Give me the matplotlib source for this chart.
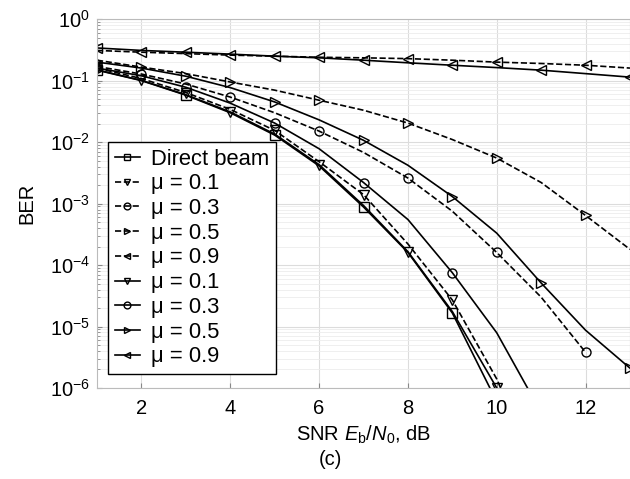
import numpy as np
import matplotlib
matplotlib.use("Agg")
import matplotlib.pyplot as plt

plt.rcParams['font.family'] = ['Liberation Sans', 'DejaVu Sans']
plt.rcParams['mathtext.fontset'] = 'custom'
plt.rcParams['mathtext.rm'] = 'Liberation Sans'
plt.rcParams['mathtext.it'] = 'Liberation Sans:italic'
plt.rcParams['font.size'] = 14.5

# SNR points (dB)
snr = [1, 2, 3, 4, 5, 6, 7, 8, 9, 10, 11, 12, 13]

# BER
ber_direct = [0.148, 0.10, 0.058, 0.030, 0.013, 0.0041, 8.8e-4, 1.6e-4, 1.66e-5, 6e-7]

# dashed curves
ber_d01 = [0.16, 0.108, 0.064, 0.034, 0.0155, 0.0048, 1.4e-3, 2.2e-4, 2.7e-5, 1.4e-6, 3e-8]
ber_d03 = [0.17, 0.128, 0.088, 0.054, 0.030, 0.0151, 0.0068, 0.0026, 7.5e-4, 1.6e-4, 3.0e-5, 3.8e-6]
ber_d05 = [0.215, 0.166, 0.13, 0.095, 0.07, 0.048, 0.033, 0.0204, 0.011, 0.0055, 0.0022, 6.4e-4, 1.8e-4]
ber_d09 = [0.31, 0.29, 0.275, 0.26, 0.25, 0.24, 0.235, 0.228, 0.215, 0.20, 0.19, 0.178, 0.16]

# solid curves
ber_s01 = [0.15, 0.101, 0.059, 0.031, 0.0135, 0.0043, 9.3e-4, 1.65e-4, 1.75e-5, 1.0e-6]
ber_s03 = [0.16, 0.12, 0.078, 0.043, 0.0204, 0.0078, 0.0022, 5.5e-4, 7.5e-5, 7.9e-6, 4e-7]
ber_s05 = [0.20, 0.16, 0.118, 0.077, 0.045, 0.023, 0.0107, 0.0042, 0.0013, 3.3e-4, 5.1e-5, 8.7e-6, 2.1e-6]
ber_s09 = [0.34, 0.31, 0.29, 0.27, 0.25, 0.235, 0.215, 0.195, 0.178, 0.163, 0.148, 0.13, 0.114]

labels = ['Direct beam', 'μ = 0.1', 'μ = 0.3', 'μ = 0.5', 'μ = 0.9',
          'μ = 0.1', 'μ = 0.3', 'μ = 0.5', 'μ = 0.9']

fig = plt.figure(figsize=(6.3, 4.79), dpi=100)
ax = fig.add_axes([0.154, 0.19, 0.846, 0.77])

odd = slice(0, None, 2)
even = slice(1, None, 2)
kw = dict(color='black', lw=1.2, mfc='none', mew=1.0, ms=6.5)

ax.plot(snr[:len(ber_direct)], ber_direct, '-s', markevery=odd, label=labels[0], **kw)
ax.plot(snr[:len(ber_d01)], ber_d01, '--v', markevery=odd, label=labels[1], **kw)
ax.plot(snr[:len(ber_d03)], ber_d03, '--o', markevery=even, label=labels[2], **kw)
ax.plot(snr[:len(ber_d05)], ber_d05, '-->', markevery=even, label=labels[3], **kw)
ax.plot(snr[:len(ber_d09)], ber_d09, '--<', markevery=even, label=labels[4], **kw)
ax.plot(snr[:len(ber_s01)], ber_s01, '-v', markevery=even, label=labels[5], **kw)
ax.plot(snr[:len(ber_s03)], ber_s03, '-o', markevery=odd, label=labels[6], **kw)
ax.plot(snr[:len(ber_s05)], ber_s05, '->', markevery=odd, label=labels[7], **kw)
ax.plot(snr[:len(ber_s09)], ber_s09, '-<', markevery=odd, label=labels[8], **kw)

ax.set_yscale('log')
ax.set_xlim(1, 13)
ax.set_ylim(1e-6, 1)
ax.set_xticks([2, 4, 6, 8, 10, 12])
ax.set_yticks([1e-6, 1e-5, 1e-4, 1e-3, 1e-2, 1e-1, 1])
ax.grid(True, which='major', color='#dcdcdc', lw=0.8)
ax.grid(True, which='minor', axis='y', color='#ececec', lw=0.6)
ax.tick_params(direction='in', which='both', colors='#888888', labelcolor='black', labelsize=14.5)
ax.tick_params(axis='x', pad=8)
ax.tick_params(axis='y', pad=5)
for s in ax.spines.values():
    s.set_color('#bbbbbb')

ax.set_xlabel('SNR $E_\\mathrm{b}/N_0$, dB', fontsize=14.5, labelpad=4)
ax.set_ylabel('BER', fontsize=14.5, labelpad=10)
fig.text(0.525, 0.04, '(c)', ha='center', va='center', fontsize=14.5)

leg = ax.legend(loc='upper left', bbox_to_anchor=(0.021, 0.667), fontsize=15.8,
                handlelength=1.15, handletextpad=0.5, labelspacing=0.17,
                borderpad=0.3, borderaxespad=0, markerscale=0.75, fancybox=False,
                framealpha=1, edgecolor='black')
leg.get_frame().set_linewidth(1.0)

fig.savefig('out.png', dpi=100)
